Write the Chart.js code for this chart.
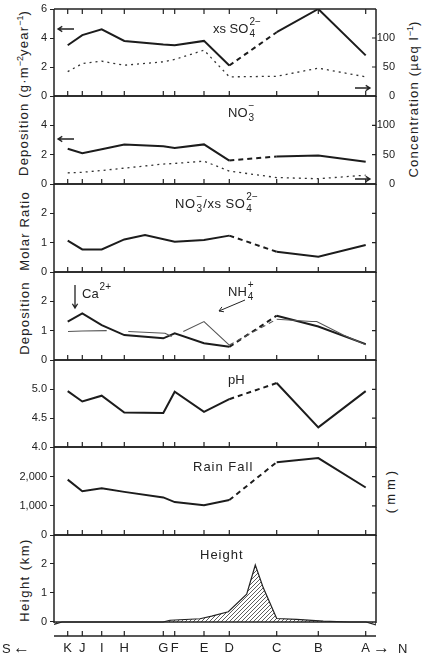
<!DOCTYPE html>
<html lang="en">
<head>
<meta charset="UTF-8">
<title>Deposition along the S-N transect</title>
<script src="https://cdn.jsdelivr.net/npm/chart.js"></script>
<style>
  body { margin: 0; background: #fff; width: 431px; height: 655px; position: relative; overflow: hidden;
         font-family: "Liberation Sans", Arial, sans-serif; color: #222; }
  canvas { position: absolute; left: 0; }
  .yt { position: absolute; transform: translate(-50%, -50%) rotate(-90deg); white-space: nowrap;
        font-size: 13px; letter-spacing: 1.2px; }
  .yt sup { font-size: 9px; vertical-align: 5px; line-height: 0; letter-spacing: 0; }
</style>
</head>
<body>
<div class="yt" style="left:23px;top:93px">Deposition (g·m<sup>−2</sup>year<sup>−1</sup>)</div>
<div class="yt" style="left:413px;top:99px">Concentration (µeq l<sup>−1</sup>)</div>
<div class="yt" style="left:24px;top:231px">Molar Ratio</div>
<div class="yt" style="left:24px;top:318px">Deposition</div>
<div class="yt" style="left:390px;top:490px;letter-spacing:4px">(mm)</div>
<div class="yt" style="left:24px;top:580px;letter-spacing:1.5px">Height (km)</div>
<script>
const FONT = '"Liberation Sans", Arial, sans-serif';
const INK = '#222';

// stations from south to north, and their position along the transect (x axis units 0..322)
const stations = ['K', 'J', 'I', 'H', 'G', 'F', 'E', 'D', 'C', 'B', 'A'];
const stationX = [13.7, 28.3, 47.7, 70.3, 109.3, 120.7, 150, 175.3, 222.7, 264.3, 311.7];

const so4Dep  = [3.5, 4.2, 4.6, 3.8, 3.55, 3.5, 3.8, 2.1, 4.4, 6.0, 2.8];
const so4Conc = [42, 56, 60, 53, 59, 63, 79, 33, 34, 48, 33];
const no3Dep  = [2.4, 2.1, 2.37, 2.7, 2.57, 2.45, 2.7, 1.6, 1.88, 1.95, 1.52];
const no3Conc = [19, 20, 23, 27, 34, 35, 39, 22, 11, 9, 15];
const ratioX  = [13.7, 28.3, 47.7, 70.3, 91, 120.7, 150, 175.3, 222.7, 264.3, 311.7];
const ratio   = [1.07, 0.77, 0.77, 1.11, 1.26, 1.03, 1.09, 1.24, 0.69, 0.52, 0.92];
const caDep   = [1.31, 1.59, 1.19, 0.85, 0.74, 0.91, 0.57, 0.45, 1.51, 1.14, 0.54];
const nh4X    = [14, 28.3, 52.7, 60, 74.3, 111, 117.7, 124, 129.3, 150, 175.3, 222.7, 257.7, 262.7, 289.3, 311.7];
const nh4Dep  = [0.97, 0.99, 1.0, null, 0.97, 0.91, 0.8, null, 0.97, 1.31, 0.51, 1.39, 1.31, 1.31, 0.85, 0.52];
const pH      = [4.97, 4.79, 4.89, 4.6, 4.59, 4.96, 4.61, 4.83, 5.11, 4.34, 4.97];
const rain    = [1900, 1500, 1600, 1480, 1290, 1130, 1025, 1200, 2500, 2640, 1630];
const heightX  = [0, 8, 109, 116, 146, 157.7, 174.3, 192.7, 201.3, 209.3, 222.7, 242.7, 269.3, 296, 312, 322];
const heightKm = [-0.08, 0, 0, 0.06, 0.11, 0.2, 0.35, 0.95, 1.95, 1.17, 0.12, 0.09, 0.03, 0, 0, -0.1];

const pts = (xs, ys) => xs.map((x, i) => ({ x: x, y: ys[i] }));

// the D -> C leg (no data in between) is drawn dashed
const gapDash = ctx => (ctx.p0.parsed.x === stationX[7] && ctx.p1.parsed.x === stationX[8]) ? [5, 4] : undefined;

function mainLine(data, extra) {
  return Object.assign({
    data: data, borderColor: '#1c1c1c', borderWidth: 2, pointRadius: 0, tension: 0,
    segment: { borderDash: gapDash }
  }, extra || {});
}
function concLine(data) {
  return { data: data, yAxisID: 'y2', borderColor: '#333', borderWidth: 1.3, borderDash: [2, 4], pointRadius: 0 };
}

function hatch() {
  const c = document.createElement('canvas');
  c.width = 4; c.height = 4;
  const g = c.getContext('2d');
  g.strokeStyle = '#333'; g.lineWidth = 0.8;
  g.beginPath();
  g.moveTo(0, 4); g.lineTo(4, 0);
  g.moveTo(-1, 1); g.lineTo(1, -1);
  g.moveTo(3, 5); g.lineTo(5, 3);
  g.stroke();
  return g.createPattern(c, 'repeat');
}

function arrow(ctx, x1, y1, x2, y2) {
  const a = Math.atan2(y2 - y1, x2 - x1), L = 5;
  ctx.beginPath();
  ctx.moveTo(x1, y1); ctx.lineTo(x2, y2);
  ctx.moveTo(x2 - L * Math.cos(a - 0.55), y2 - L * Math.sin(a - 0.55));
  ctx.lineTo(x2, y2);
  ctx.lineTo(x2 - L * Math.cos(a + 0.55), y2 - L * Math.sin(a + 0.55));
  ctx.stroke();
}

// text with chemical sub/superscripts: parts = [[text, sub, sup], ...]
function chem(ctx, x, y, parts, spacing) {
  ctx.fillStyle = INK;
  ctx.textBaseline = 'alphabetic';
  ctx.textAlign = 'left';
  for (const [t, sub, sup] of parts) {
    ctx.letterSpacing = (spacing || 0) + 'px';
    ctx.font = '13px ' + FONT;
    ctx.fillText(t, x, y);
    x += ctx.measureText(t).width;
    if (sub || sup) {
      ctx.letterSpacing = '0px';
      ctx.font = '10px ' + FONT;
      let w = 0;
      if (sub) { ctx.fillText(sub, x + 1, y + 4); w = ctx.measureText(sub).width; }
      if (sup) { ctx.fillText(sup, x + 1, y - 8); w = Math.max(w, ctx.measureText(sup).width); }
      x += w + 2;
    }
  }
  ctx.letterSpacing = '0px';
}

function panel(p) {
  const padTop = 12;
  const cTop = p.top - padTop;
  const h = p.bottom - p.top + padTop + (p.axisBottom ? 19 : 12);
  const cv = document.createElement('canvas');
  cv.width = 431; cv.height = h;
  cv.style.top = cTop + 'px';
  document.body.appendChild(cv);

  const scales = {
    x: {
      type: 'linear', min: 0, max: 322, display: !!p.axisBottom,
      afterFit: s => { if (p.axisBottom) s.height = 19; },
      afterBuildTicks: s => { s.ticks = stationX.map(v => ({ value: v })); },
      grid: { display: false, drawTicks: false },
      border: { display: false },
      ticks: { autoSkip: false, maxRotation: 0, padding: 5, color: INK,
               font: { family: FONT, size: 13 }, callback: (v, i) => stations[i] }
    },
    y: {
      position: 'left', min: p.y.min, max: p.y.max,
      afterFit: s => { s.width = 54; },
      afterBuildTicks: s => { s.ticks = p.y.ticks.map(v => ({ value: v })); },
      grid: { drawOnChartArea: false, drawTicks: true, tickLength: 4, color: INK, lineWidth: 1 },
      border: { display: false },
      ticks: { padding: 3, color: INK, font: { family: FONT, size: 11 }, callback: p.y.fmt || (v => v) }
    }
  };
  if (p.y2) {
    // narrow right axis so that its labels end right-aligned at x = 395
    scales.y2 = {
      position: 'right', min: p.y2.min, max: p.y2.max,
      afterFit: s => { s.width = 19; },
      afterBuildTicks: s => { s.ticks = p.y2.ticks.map(v => ({ value: v })); },
      grid: { display: false, drawTicks: false },
      border: { display: false },
      ticks: { crossAlign: 'far', padding: 0, color: INK, font: { family: FONT, size: 11 } }
    };
  }

  const deco = {
    id: 'deco',
    afterDraw(chart) {
      const { ctx, chartArea: a } = chart;
      const xs = chart.scales.x, ys = chart.scales.y;
      const zero = p.zeroLine ? ys.getPixelForValue(0) : a.bottom;
      ctx.save();
      ctx.strokeStyle = INK;
      ctx.lineWidth = 1.5;
      ctx.beginPath();
      ctx.moveTo(a.left, a.top); ctx.lineTo(a.right, a.top);
      ctx.moveTo(a.left, a.top); ctx.lineTo(a.left, zero + 1);
      ctx.moveTo(a.right, a.top); ctx.lineTo(a.right, zero + 1);
      ctx.moveTo(a.left, zero); ctx.lineTo(a.right, zero);
      ctx.moveTo(a.left, a.bottom); ctx.lineTo(a.right, a.bottom);
      ctx.stroke();
      ctx.lineWidth = 1.2;
      ctx.beginPath();
      stationX.forEach(v => {
        const x = xs.getPixelForValue(v);
        ctx.moveTo(x, a.bottom); ctx.lineTo(x, a.bottom - 5);
        if (p.topTicks) { ctx.moveTo(x, a.top); ctx.lineTo(x, a.top + 5); }
      });
      ys.ticks.forEach(t => {
        const y = ys.getPixelForValue(t.value);
        if (y > a.top + 2 && y < zero - 2) { ctx.moveTo(a.right, y); ctx.lineTo(a.right - 4, y); }
      });
      ctx.stroke();
      ctx.translate(0, -cTop);
      ctx.lineWidth = 1.3;
      if (p.draw) p.draw(ctx);
      ctx.restore();
    }
  };

  return new Chart(cv, {
    type: 'line',
    data: { datasets: p.datasets },
    options: {
      responsive: false, animation: false, devicePixelRatio: 1,
      layout: { padding: { top: padTop, bottom: p.axisBottom ? 0 : 12, left: 0, right: p.y2 ? 36 : 55 } },
      plugins: { legend: { display: false }, tooltip: { enabled: false } },
      scales: scales
    },
    plugins: [deco]
  });
}

// xs SO4 2-
panel({
  top: 9, bottom: 96, topTicks: true,
  y: { min: 0, max: 6, ticks: [0, 2, 4, 6] },
  y2: { min: 0, max: 150, ticks: [0, 50, 100] },
  datasets: [mainLine(pts(stationX, so4Dep)), concLine(pts(stationX, so4Conc))],
  draw: ctx => {
    chem(ctx, 213, 33, [['xs SO', '4', '2−']]);
    arrow(ctx, 74, 29, 58, 29);
    arrow(ctx, 355, 88, 370, 88);
  }
});

// NO3-
panel({
  top: 96, bottom: 184,
  y: { min: 0, max: 6, ticks: [0, 2, 4] },
  y2: { min: 0, max: 150, ticks: [0, 50, 100] },
  datasets: [mainLine(pts(stationX, no3Dep)), concLine(pts(stationX, no3Conc))],
  draw: ctx => {
    chem(ctx, 228, 117, [['NO', '3', '−']]);
    arrow(ctx, 74, 139, 58, 139);
    arrow(ctx, 355, 179, 370, 179);
  }
});

// NO3- / xs SO4 2-
panel({
  top: 184, bottom: 272,
  y: { min: 0, max: 3, ticks: [0, 1, 2] },
  datasets: [mainLine(pts(ratioX, ratio))],
  draw: ctx => {
    chem(ctx, 175, 208, [['NO', '3', '−'], ['/xs SO', '4', '2−']], 0.5);
  }
});

// Ca2+ and NH4+
panel({
  top: 272, bottom: 360,
  y: { min: 0, max: 3, ticks: [0, 1, 2] },
  datasets: [
    mainLine(pts(nh4X, nh4Dep), { borderColor: '#555', borderWidth: 1.1, spanGaps: false }),
    mainLine(pts(stationX, caDep))
  ],
  draw: ctx => {
    chem(ctx, 82, 298, [['Ca', null, '2+']]);
    chem(ctx, 228, 296, [['NH', '4', '+']]);
    arrow(ctx, 75, 285, 75, 308);
    ctx.lineWidth = 1;
    arrow(ctx, 245, 300, 219, 311);
  }
});

// pH
panel({
  top: 360, bottom: 447,
  y: { min: 4.0, max: 5.51, ticks: [4.0, 4.5, 5.0], fmt: v => v.toFixed(1) },
  datasets: [mainLine(pts(stationX, pH))],
  draw: ctx => { chem(ctx, 228, 384, [['pH']]); }
});

// rain fall
panel({
  top: 447, bottom: 535,
  y: { min: 0, max: 3020, ticks: [0, 1000, 2000], fmt: v => v.toLocaleString('en-US') },
  datasets: [mainLine(pts(stationX, rain))],
  draw: ctx => { chem(ctx, 193, 471, [['Rain Fall']], 1); }
});

// topography
panel({
  top: 535, bottom: 636, axisBottom: true, zeroLine: true,
  y: { min: -0.48, max: 2.98, ticks: [0, 1, 2] },
  datasets: [{
    data: pts(heightX, heightKm), borderColor: '#222', borderWidth: 1.2, pointRadius: 0,
    fill: 'origin', backgroundColor: hatch()
  }],
  draw: ctx => {
    ctx.fillStyle = INK;
    chem(ctx, 200, 559, [['Height']], 1);
    ctx.textBaseline = 'alphabetic';
    ctx.font = '13px ' + FONT;
    ctx.fillText('S', 2, 653);
    ctx.fillText('N', 398, 653);
    ctx.font = '17px ' + FONT;
    ctx.fillText('\u2190', 13, 653);
    ctx.fillText('\u2192', 373, 653);
  }
});
</script>
</body>
</html>
